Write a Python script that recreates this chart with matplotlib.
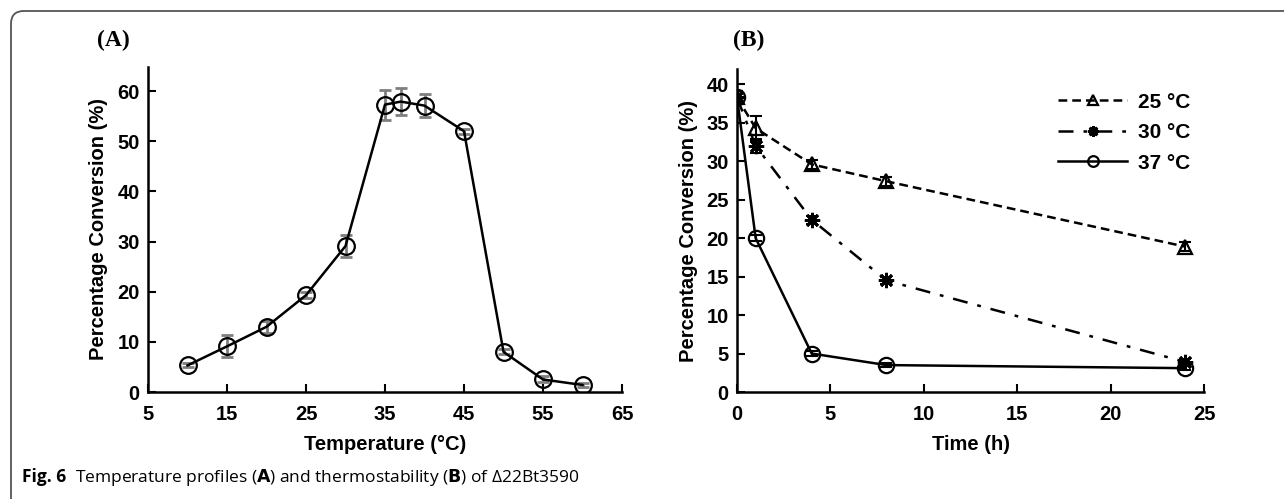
import numpy as np
import matplotlib.pyplot as plt
from matplotlib.patches import FancyBboxPatch

# panel A: temperature profile
temp = [10, 15, 20, 25, 30, 35, 37, 40, 45, 50, 55, 60]
conv_a = [5.3, 9.1, 13.0, 19.3, 29.1, 57.3, 57.9, 57.1, 52.0, 8.0, 2.5, 1.4]
err_a = [0.4, 2.2, 1.2, 0.6, 2.2, 3.0, 2.7, 2.3, 0.5, 0.5, 0.6, 0.4]

# panel B: thermostability
time_h = [0, 1, 4, 8, 24]
conv_25 = [38.3, 34.3, 29.6, 27.4, 18.9]
err_25 = [0.8, 1.6, 0.6, 0.6, 0.6]
conv_30 = [38.3, 32.0, 22.4, 14.5, 3.9]
err_30 = [0.8, 0.9, 0.5, 0.4, 0.4]
conv_37 = [38.3, 20.0, 5.0, 3.5, 3.1]
err_37 = [0.8, 0.4, 0.3, 0.3, 0.3]

plt.rcParams['font.family'] = ['Liberation Sans', 'DejaVu Sans']
W, H = 1284, 499
fig = plt.figure(figsize=(W / 100, H / 100), dpi=100)

# rounded frame around the figure
frame = FancyBboxPatch((11 / W, -0.2), 1.2, 1.2 - 11 / H,
                       boxstyle='round,pad=0,rounding_size=0.01',
                       transform=fig.transFigure, fill=False,
                       ec='#555555', lw=1.3, mutation_aspect=W / H)
fig.patches.append(frame)


def style_axes(ax):
    ax.spines['top'].set_visible(False)
    ax.spines['right'].set_visible(False)
    ax.spines['left'].set_linewidth(1.8)
    ax.spines['bottom'].set_linewidth(1.8)
    ax.tick_params(direction='in', length=6, width=1.5, labelsize=14.5)
    ax.tick_params(axis='x', pad=9)
    ax.tick_params(axis='y', pad=6)
    for lab in ax.get_xticklabels() + ax.get_yticklabels():
        lab.set_fontweight('bold')


# ---- (A)
axA = fig.add_axes([148 / W, 1 - 392 / H, 474 / W, 325 / H])
axA.errorbar(temp, conv_a, yerr=err_a, fmt='none', ecolor='#7f7f7f',
             elinewidth=2, capsize=4, capthick=2, zorder=2)
axA.plot(temp, conv_a, '-', color='black', lw=1.8, marker='o',
         ms=12, mfc='none', mec='black', mew=1.6, zorder=3)
axA.set_xlim(5, 65)
axA.set_ylim(0, 64.8)
axA.set_xticks(range(5, 66, 10))
axA.set_yticks(range(0, 61, 10))
style_axes(axA)
axA.set_xlabel('Temperature (°C)', fontsize=14.5, fontweight='bold', labelpad=8)
axA.set_ylabel('Percentage Conversion (%)', fontsize=14.5, fontweight='bold',
               labelpad=7)
fig.text(97 / W, 1 - 40 / H, '(A)', family='Liberation Serif',
         fontsize=17, fontweight='bold', ha='left', va='center')

# ---- (B)
axB = fig.add_axes([737 / W, 1 - 392 / H, 467 / W, 323 / H])
for y, e in [(conv_25, err_25), (conv_30, err_30), (conv_37, err_37)]:
    axB.errorbar(time_h, y, yerr=e, fmt='none', ecolor='black',
                 elinewidth=1.5, capsize=4, capthick=1.5, zorder=2)
axB.plot(time_h, conv_25, color='black', ls=(0, (3.5, 2)), lw=1.8,
         marker='^', ms=10, mfc='none', mew=1.6, label='25 °C', zorder=3)
axB.plot(time_h, conv_30, color='black', ls=(0, (6, 4, 1.5, 4)), lw=1.8,
         marker=(8, 2, 0), ms=11, mew=2, label='30 °C', zorder=3)
axB.plot(time_h, conv_37, color='black', ls='-', lw=1.8,
         marker='o', ms=11, mfc='none', mew=1.6, label='37 °C', zorder=3)
axB.set_xlim(0, 25)
axB.set_ylim(0, 42)
axB.set_xticks(range(0, 26, 5))
axB.set_yticks(range(0, 41, 5))
style_axes(axB)
axB.set_xlabel('Time (h)', fontsize=14.5, fontweight='bold', labelpad=8)
axB.set_ylabel('Percentage Conversion (%)', fontsize=14.5, fontweight='bold',
               labelpad=6)
leg = axB.legend(loc='upper right', bbox_to_anchor=(1.01, 0.985), frameon=False,
                 handlelength=3.3, handletextpad=0.5, labelspacing=0.55,
                 prop=dict(size=15, weight='bold'), markerscale=0.7)
fig.text(733 / W, 1 - 40 / H, '(B)', family='Liberation Serif',
         fontsize=17, fontweight='bold', ha='left', va='center')

# caption
t = fig.text(22 / W, 1 - 477 / H, 'Fig. 6', family='Open Sans',
             fontsize=12.5, fontweight='bold', ha='left', va='center')
fig.canvas.draw()
bb = t.get_window_extent()
fig.text(bb.x1 / W + 9 / W, 1 - 477 / H,
         'Temperature profiles ($\\mathbf{A}$) and thermostability ($\\mathbf{B}$) of Δ22Bt3590',
         family='Open Sans', fontsize=12.5, ha='left', va='center')

fig.savefig('out.png', dpi=100)
